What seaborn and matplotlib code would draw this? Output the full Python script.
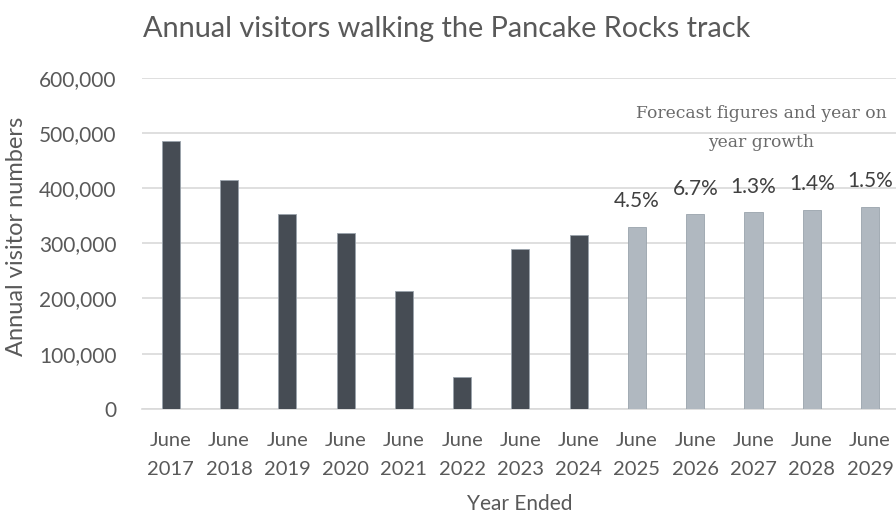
import matplotlib
matplotlib.use("Agg")
import matplotlib.pyplot as plt
import seaborn as sns
import pandas as pd
from matplotlib.ticker import FuncFormatter

years = ["June\n2017", "June\n2018", "June\n2019", "June\n2020", "June\n2021", "June\n2022", "June\n2023",
         "June\n2024", "June\n2025", "June\n2026", "June\n2027", "June\n2028", "June\n2029"]
visitors = [485000, 414000, 353000, 319000, 213000, 58000, 290000, 315000,
            329000, 352000, 356000, 361000, 366000]
kind = ["Actual"] * 8 + ["Forecast"] * 5
growth_labels = ["", "", "", "", "", "", "", "", "4.5%", "6.7%", "1.3%", "1.4%", "1.5%"]
yticks = [0, 100000, 200000, 300000, 400000, 500000, 600000]

df = pd.DataFrame({"year": years, "visitors": visitors, "kind": kind})

sns.set_theme(style="white")
plt.rcParams["font.family"] = ["Lato", "DejaVu Sans"]
TXT = "#595959"

fig = plt.figure(figsize=(8.96, 5.15), dpi=100)
ax = fig.add_axes([141.7 / 896, (515 - 408.8) / 515, 757.5 / 896, (408.8 - 77.6) / 515])

sns.barplot(data=df, x="year", y="visitors", hue="kind", dodge=False, legend=False,
            palette={"Actual": "#444C56", "Forecast": "#ADB8C3"}, width=0.31,
            edgecolor="#9AA3AC", linewidth=0.6, ax=ax, zorder=3)

ax.set_ylim(0, 600000)
ax.set_xlim(-0.5, len(years) - 0.5)
ax.set_yticks(yticks)
ax.yaxis.set_major_formatter(FuncFormatter(lambda v, p: f"{int(v):,}"))
ax.set_xticks(range(len(years)), years, linespacing=1.85)
ax.grid(axis="y", color="#D9D9D9", linewidth=1.2, zorder=0)
ax.grid(axis="x", visible=False)
for s in ["top", "right", "left"]:
    ax.spines[s].set_visible(False)
ax.spines["bottom"].set_color("#D9D9D9")
ax.spines["bottom"].set_linewidth(1.2)
ax.tick_params(axis="y", length=0, pad=18, labelsize=15, labelcolor=TXT)
ax.tick_params(axis="x", length=0, pad=16.5, labelsize=14.5, labelcolor=TXT)
ax.set_xlabel("")
ax.set_ylabel("")

for i, (v, g) in enumerate(zip(visitors, growth_labels)):
    if g:
        ax.annotate(g, (i, v), xytext=(0, 18.5), textcoords="offset points",
                    ha="center", va="center", fontsize=15, color="#404040")

fig.text(143 / 896, 1 - 29 / 515, "Annual visitors walking the Pancake Rocks track",
         ha="left", va="center", fontsize=20.8, color=TXT)
fig.text(17 / 896, 1 - 236 / 515, "Annual visitor numbers", rotation=90,
         ha="center", va="center", fontsize=17, color=TXT)
fig.text(520 / 896, 1 - 504 / 515, "Year Ended", ha="center", va="center",
         fontsize=15, color=TXT)
fig.text(761 / 896, 1 - 128 / 515, "Forecast figures and year on\nyear growth",
         ha="center", va="center", fontsize=12.3, color="#6A6A6A", family="DejaVu Serif",
         linespacing=1.95)

fig.savefig("out.png", dpi=100)
